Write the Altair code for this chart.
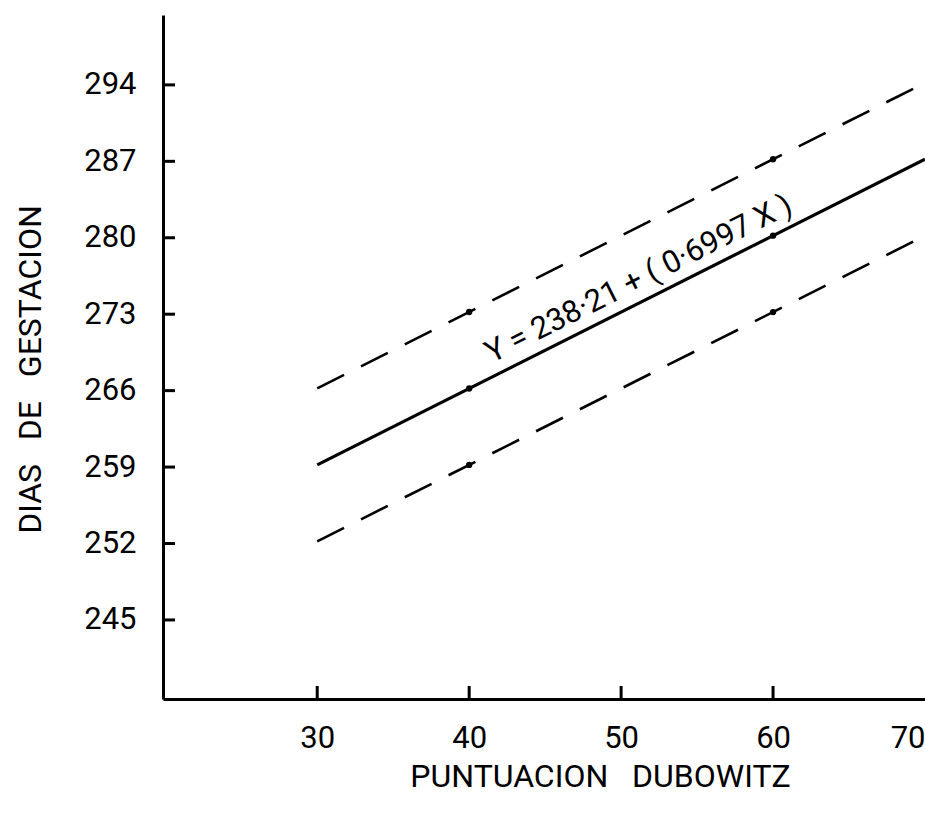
import altair as alt
import pandas as pd

# Regression of gestational age on Dubowitz score, with +/- 7 day bands
intercept = 238.21
slope = 0.6997
band = 7.0
x_ends = [30, 70]

x_ticks = [30, 40, 50, 60, 70]
y_ticks = [245, 252, 259, 266, 273, 280, 287, 294]

# marked points along the lines
dot_x = [40, 40, 40, 60, 60, 60]
dot_offset = [band, 0, -band, band, 0, -band]

FONT = "Roboto"
W, H = 762, 684
X_DOMAIN = [19.85, 70]
Y_DOMAIN = [237.76, 300.4]
SP = "\u00a0\u00a0\u00a0"

xs = alt.Scale(domain=X_DOMAIN, nice=False, zero=False)
ys = alt.Scale(domain=Y_DOMAIN, nice=False, zero=False)

x_axis = alt.Axis(
    values=x_ticks, ticks=False, tickSize=0, grid=False,
    domainColor="black", domainWidth=3,
    labelFont=FONT, labelFontSize=31, labelColor="black",
    labelPadding=24, labelFlush=True,
    title=f"PUNTUACION{SP}DUBOWITZ", titleFont=FONT, titleFontSize=32,
    titleFontWeight="normal", titleColor="black",
    titleX=437, titleY=62, titleAlign="center", titleBaseline="top",
)
y_axis = alt.Axis(
    values=y_ticks, ticks=False, tickSize=0, grid=False,
    domainColor="black", domainWidth=3,
    labelFont=FONT, labelFontSize=31, labelColor="black",
    labelPadding=27,
    title=f"DIAS{SP}DE{SP}GESTACION", titleFont=FONT, titleFontSize=32,
    titleFontWeight="normal", titleColor="black",
    titleX=-133, titleY=354, titleAlign="center", titleBaseline="middle",
    titleAngle=270,
)

rows = []
for name, off in [("fit", 0.0), ("upper", band), ("lower", -band)]:
    for x in x_ends:
        rows.append({"line": name, "x": x, "y": intercept + slope * x + off})
lines = pd.DataFrame(rows)

dots = pd.DataFrame({
    "x": dot_x,
    "y": [intercept + slope * x + o for x, o in zip(dot_x, dot_offset)],
})


def X(field):
    return alt.X(field, scale=xs, axis=x_axis)


def Y(field):
    return alt.Y(field, scale=ys, axis=y_axis)


fit = alt.Chart(lines).transform_filter(alt.datum.line == "fit").mark_line(
    color="black", strokeWidth=3.2, clip=True
).encode(x=X("x:Q"), y=Y("y:Q"))

bands = alt.Chart(lines).transform_filter(alt.datum.line != "fit").mark_line(
    color="black", strokeWidth=2.6, strokeDash=[30, 19], clip=True
).encode(x=X("x:Q"), y=Y("y:Q"), detail="line:N")

pts = alt.Chart(dots).mark_circle(color="black", size=40, opacity=1).encode(
    x=X("x:Q"), y=Y("y:Q"),
)

# inward-pointing tick marks on both axes
yt = alt.Chart(pd.DataFrame({"y": y_ticks})).mark_rule(color="black", strokeWidth=3).encode(
    y=Y("y:Q"), x=alt.value(0), x2=alt.value(12),
)
xt = alt.Chart(pd.DataFrame({"x": x_ticks[:-1]})).mark_rule(color="black", strokeWidth=3).encode(
    x=X("x:Q"), y=alt.value(H), y2=alt.value(H - 13),
)

eq_x = [51.8]
eq = alt.Chart(pd.DataFrame({
    "x": eq_x,
    "y": [intercept + slope * x for x in eq_x],
    "t": ["Y = 238\u00b721 + ( 0\u00b76997 X )"],
})).mark_text(
    font=FONT, fontSize=31, color="black", angle=333.4,
    align="center", baseline="bottom", dy=-5,
).encode(x=X("x:Q"), y=Y("y:Q"), text="t:N")

chart = alt.layer(fit, bands, pts, yt, xt, eq).properties(
    width=W, height=H,
    autosize=alt.AutoSizeParams(type="none"),
    padding={"left": 163, "top": 15, "right": 0, "bottom": 120},
    background="white",
).configure_view(stroke=None)

chart.save("out.html", embed_options={"renderer": "svg", "actions": False})
